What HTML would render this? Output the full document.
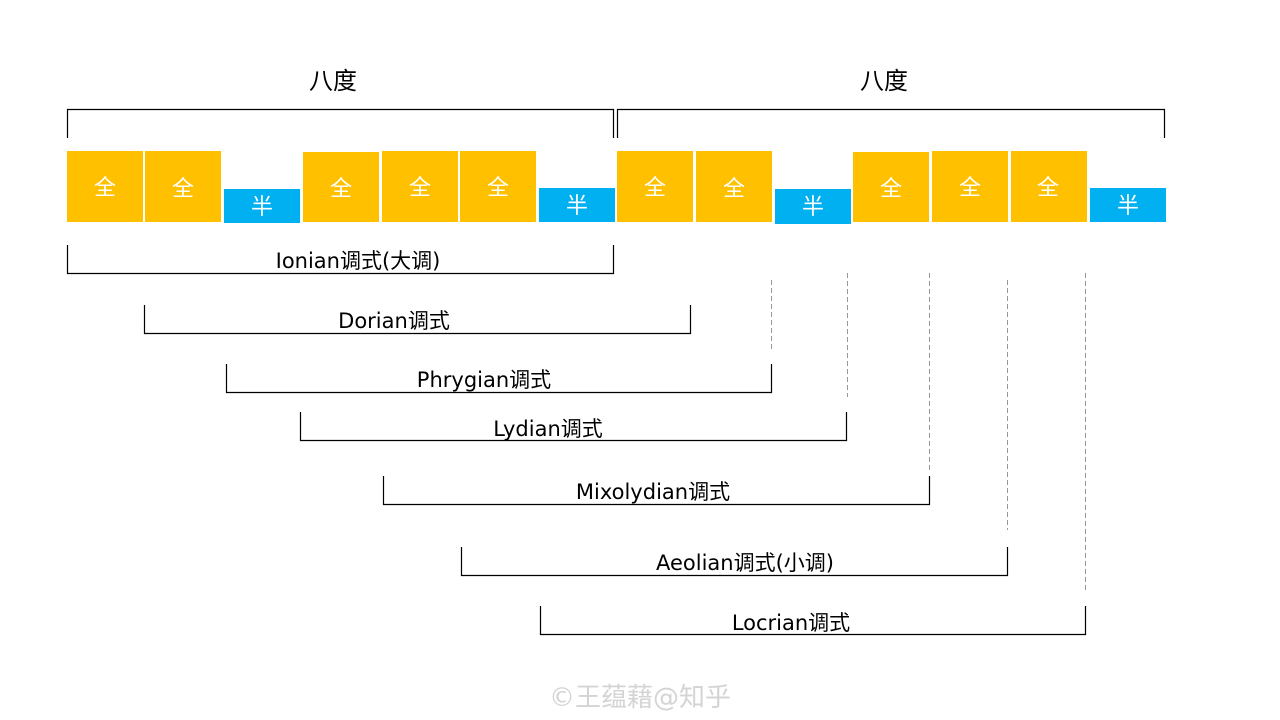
<!DOCTYPE html>
<html><head><meta charset="utf-8"><style>
html,body{margin:0;padding:0;background:#fff;}
svg{display:block;}
text{font-family:"DejaVu Sans","Noto Sans CJK SC",sans-serif;}
</style></head><body>
<svg width="1280" height="720" viewBox="0 0 1280 720" xmlns="http://www.w3.org/2000/svg">
<g fill="#FFC000">
<rect x="67" y="151" width="76" height="71"/><rect x="145" y="151" width="76" height="71"/>
<rect x="303" y="152" width="76" height="70"/><rect x="382" y="151" width="76" height="71"/><rect x="460" y="151" width="76" height="71"/>
<rect x="617" y="151" width="76" height="71"/><rect x="696" y="151" width="76" height="71"/>
<rect x="853" y="152" width="76" height="70"/><rect x="932" y="151" width="76" height="71"/><rect x="1011" y="151" width="76" height="71"/>
</g>
<g fill="#00B0F0">
<rect x="224" y="189" width="76" height="34"/><rect x="539" y="188" width="76" height="34"/>
<rect x="775" y="189" width="76" height="35"/><rect x="1090" y="188" width="76" height="34"/>
</g>
<g fill="#fff" font-size="22" text-anchor="middle">
<text x="105" y="195">全</text><text x="183" y="196">全</text><text x="341" y="196">全</text><text x="420" y="195">全</text><text x="498" y="195">全</text>
<text x="655" y="195">全</text><text x="734" y="196">全</text><text x="891" y="196">全</text><text x="970" y="195">全</text><text x="1048" y="195">全</text>
<text x="262" y="214">半</text><text x="577" y="213">半</text><text x="813" y="214">半</text><text x="1128" y="213">半</text>
</g>
<g fill="none" stroke="#000" stroke-width="1.2">
<path d="M67.5 138V109.5H613.5V138"/>
<path d="M617.5 138V109.5H1164.5V138"/>
<path d="M67.5 245V273.5H613.5V245"/>
<path d="M144.5 305V333.5H690.5V305"/>
<path d="M226.5 364V392.5H771.5V364"/>
<path d="M300.5 412V440.5H846.5V412"/>
<path d="M383.5 476V504.5H929.5V476"/>
<path d="M461.5 547V575.5H1007.5V547"/>
<path d="M540.5 606V634.5H1085.5V606"/>
</g>
<g stroke="#999" stroke-width="1" stroke-dasharray="5,3">
<line x1="771.5" y1="280" x2="771.5" y2="350"/>
<line x1="847.5" y1="273" x2="847.5" y2="397"/>
<line x1="929.5" y1="273" x2="929.5" y2="470"/>
<line x1="1007.5" y1="280" x2="1007.5" y2="530"/>
<line x1="1085.5" y1="273" x2="1085.5" y2="590"/>
</g>
<g fill="#000" font-size="24" text-anchor="middle">
<text x="333" y="89">八度</text><text x="884" y="89">八度</text>
</g>
<g fill="#000" font-size="21" text-anchor="middle">
<text x="358" y="268">Ionian调式(大调)</text>
<text x="394" y="328">Dorian调式</text>
<text x="484" y="387">Phrygian调式</text>
<text x="548" y="436">Lydian调式</text>
<text x="653" y="499">Mixolydian调式</text>
<text x="745" y="570">Aeolian调式(小调)</text>
<text x="791" y="630">Locrian调式</text>
</g>
<text x="640" y="706" font-size="26" fill="#d4d4d4" text-anchor="middle">©王蕴藉@知乎</text>
</svg>
</body></html>
